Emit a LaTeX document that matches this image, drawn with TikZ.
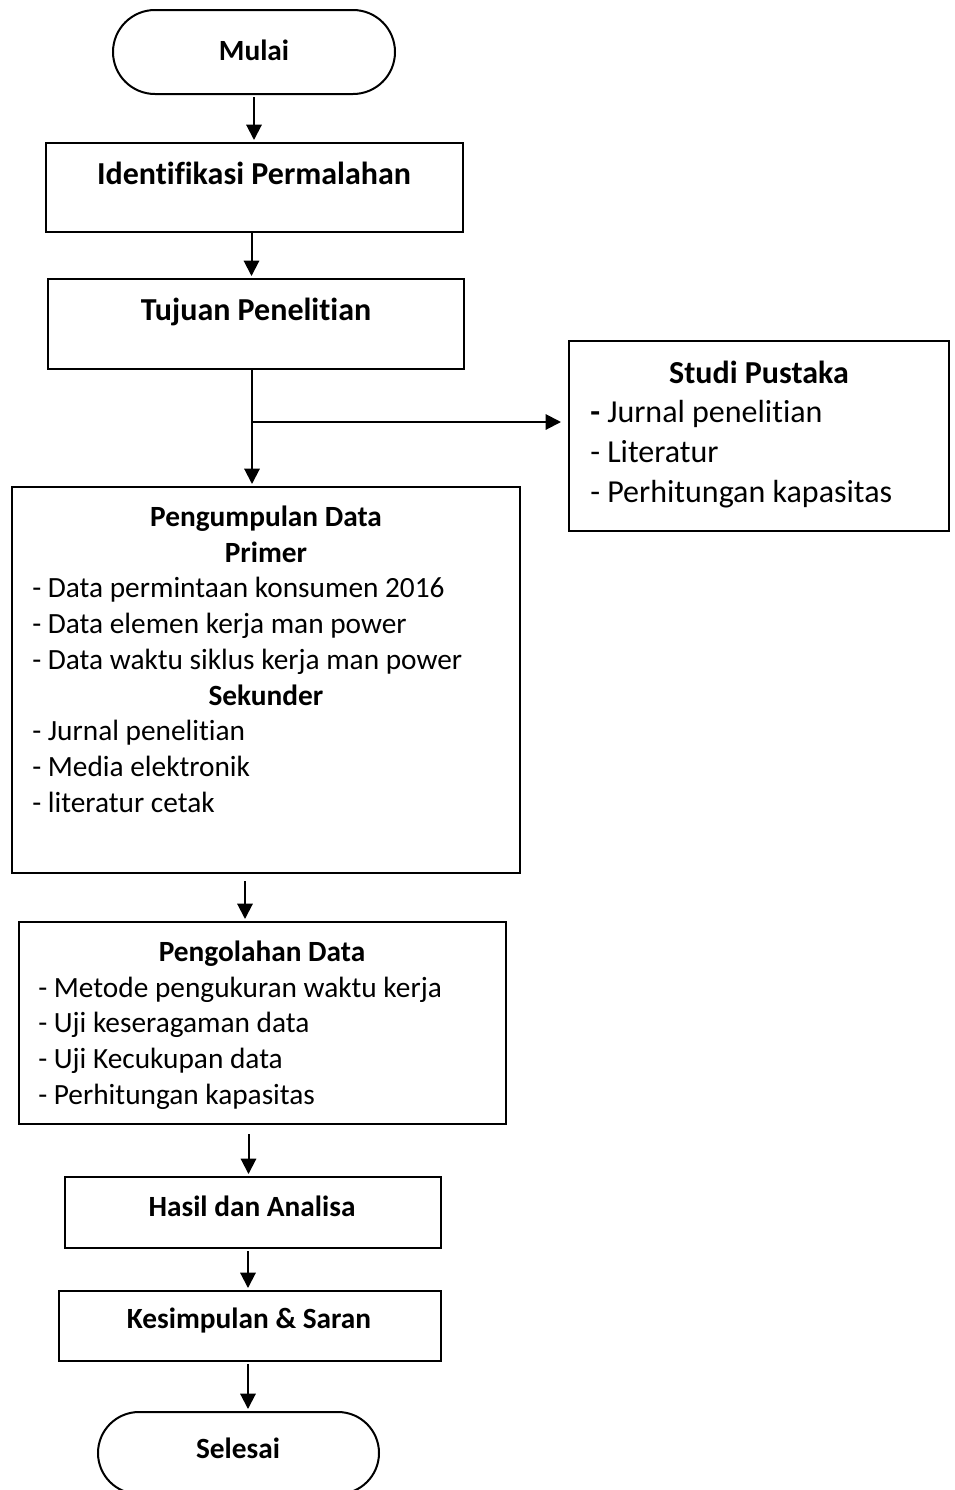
\documentclass[tikz,border=0pt]{standalone}
\usepackage{fontspec}
\setmainfont{Carlito}[Ligatures={NoCommon,NoContextual}]
\usetikzlibrary{arrows.meta,fit,calc}
\begin{document}
\begin{tikzpicture}[x=0.75pt,y=-0.75pt,
  box/.style={draw,line width=1.5pt,inner sep=0pt,rectangle},
  arr/.style={line width=1.5pt,-{Triangle[length=11.5pt,width=11.5pt]},shorten >=1.5pt},
  ttl/.style={font=\fontsize{22}{27}\selectfont\bfseries,anchor=base,inner sep=0pt},
  itm/.style={font=\fontsize{22}{27}\selectfont,anchor=base west,inner sep=0pt},
  ttlb/.style={font=\fontsize{24}{29}\selectfont\bfseries,anchor=base,inner sep=0pt},
  itmb/.style={font=\fontsize{24}{29}\selectfont,anchor=base west,inner sep=0pt},
]
\useasboundingbox (0,0) rectangle (955,1490);
\clip (0,0) rectangle (955,1490);

% shapes
\node[box,rounded corners=31.5pt,fit={(113,10) (395,94)}] (mulai) {};
\node[box,fit={(46,143) (463,232)}] (ident) {};
\node[box,fit={(48,279) (464,369)}] (tujuan) {};
\node[box,fit={(569,341) (949,531)}] (studi) {};
\node[box,fit={(12,487) (520,873)}] (kumpul) {};
\node[box,fit={(19,922) (506,1124)}] (olah) {};
\node[box,fit={(65,1177) (441,1248)}] (hasil) {};
\node[box,fit={(59,1291) (441,1361)}] (simpul) {};
\node[box,rounded corners=30.75pt,fit={(98,1412) (379,1494)}] (selesai) {};

% texts
\node[ttl] (tmulai) at (254,60) {Mulai};
\node[ttlb] (tident) at (254,184) {Identifikasi Permalahan};
\node[ttlb] (ttujuan) at (256,320) {Tujuan Penelitian};

\node[ttlb] (tstudi) at (759,383) {Studi Pustaka};
\node[itmb] (s1) at (590,422) {\textbf{-} Jurnal penelitian};
\node[itmb] (s2) at (590,462) {- Literatur};
\node[itmb] (s3) at (590,502) {- Perhitungan kapasitas};

\node[ttl] (tkumpul) at (266,526) {Pengumpulan Data};
\node[ttl] (tprimer) at (266,562) {Primer};
\node[itm] (k1) at (32,597) {- Data permintaan konsumen 2016};
\node[itm] (k2) at (32,633) {- Data elemen kerja man power};
\node[itm] (k3) at (32,669) {- Data waktu siklus kerja man power};
\node[ttl] (tsek) at (266,705) {Sekunder};
\node[itm] (k4) at (32,740) {- Jurnal penelitian};
\node[itm] (k5) at (32,776) {- Media elektronik};
\node[itm] (k6) at (32,812) {- literatur cetak};

\node[ttl] (tolah) at (262,961) {Pengolahan Data};
\node[itm] (o1) at (38,997) {- Metode pengukuran waktu kerja};
\node[itm] (o2) at (38,1032) {- Uji keseragaman data};
\node[itm] (o3) at (38,1068) {- Uji Kecukupan data};
\node[itm] (o4) at (38,1104) {- Perhitungan kapasitas};

\node[ttl] (thasil) at (252,1216) {Hasil dan Analisa};
\node[ttl] (tsimpul) at (249,1328) {Kesimpulan \& Saran};
\node[ttl] (tselesai) at (238,1458) {Selesai};

% connectors
\coordinate (a1) at ($(mulai.south)+(0,2)$);
\draw[arr] (a1) -- (a1 |- ident.north);
\coordinate (a2) at ($(ident.south)+(-3,0)$);
\draw[arr] (a2) -- (a2 |- tujuan.north);
\coordinate (a3) at ($(tujuan.south)+(-4,0)$);
\draw[arr] (a3) -- (a3 |- kumpul.north);
\coordinate (br) at ($(tujuan.south)+(-4,52)$);
\draw[arr,shorten >=5.25pt] (br) -- (br -| studi.west);
\coordinate (a4) at ($(kumpul.south)+(-21,7)$);
\draw[arr] (a4) -- (a4 |- olah.north);
\coordinate (a5) at ($(olah.south)+(-14,9)$);
\draw[arr] (a5) -- (a5 |- hasil.north);
\coordinate (a6) at ($(hasil.south)+(-5,2)$);
\draw[arr] (a6) -- (a6 |- simpul.north);
\coordinate (a7) at ($(simpul.south)+(-2,2)$);
\draw[arr] (a7) -- (a7 |- selesai.north);
\end{tikzpicture}
\end{document}
